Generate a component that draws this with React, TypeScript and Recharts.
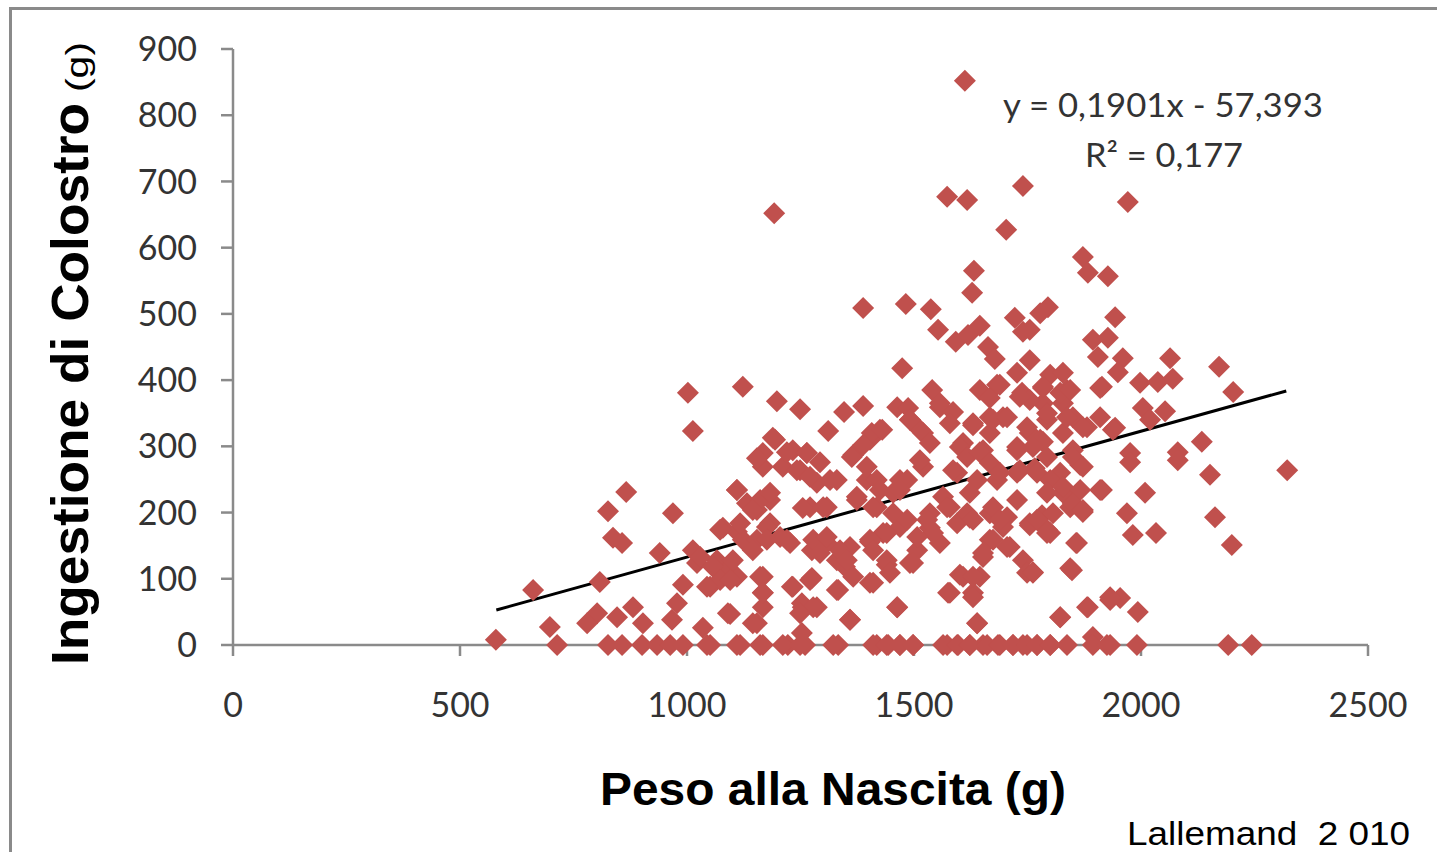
import { ReferenceLine, Scatter, ScatterChart, XAxis, YAxis } from "recharts";

// peso alla nascita (g) / ingestione di colostro (g)
const birthWeight = [
	1612, 1192, 1573, 1617, 1740, 1971, 1703, 1872, 1883, 1927,
	1632, 1628, 1388, 1482, 1537, 1553, 1592, 1619, 1645, 1663,
	1678, 1722, 1740, 1474, 1123, 1198, 1249, 1346, 1388, 1463,
	1540, 1557, 1586, 1645, 1683, 1727, 1738, 1311, 1194, 1233,
	1425, 1403, 1491, 1513, 1579, 1630, 1667, 1696, 1667, 1608,
	1652, 1727, 1366, 1264, 1167, 1795, 1778, 1755, 1943, 1894,
	1927, 1905, 1960, 1949, 2064, 2172, 1998, 2037, 2070, 1755,
	1800, 1828, 1784, 1837, 1914, 2203, 1784, 1828, 2004, 2053,
	2020, 1850, 1910, 1755, 1793, 1881, 1943, 1828, 1784, 1755,
	2134, 2081, 1976, 1850, 1002, 1013, 866, 826, 969, 837,
	857, 940, 1013, 1110, 1132, 1079, 1110, 1123, 1022, 1066,
	1088, 1110, 1051, 991, 978, 808, 661, 881, 802, 780,
	846, 903, 967, 698, 1095, 1035, 579, 1154, 1253, 1359,
	1463, 1639, 1575, 1601, 1630, 1645, 1403, 1333, 1231, 1275,
	1253, 1286, 1167, 1167, 1167, 1440, 1491, 1348, 1308, 1275,
	1359, 1330, 1403, 1432, 1469, 1535, 1557, 1507, 1535, 1579,
	1623, 1667, 1705, 1667, 1711, 1652, 1740, 1749, 1485, 1454,
	1396, 1374, 1418, 1330, 1286, 1249, 1211, 1167, 1271, 1308,
	1183, 1154, 1183, 1154, 1220, 1520, 1595, 1639, 1683, 1727,
	1564, 1623, 1727, 1595, 1696, 1766, 1822, 1866, 1976, 2081,
	2152, 2322, 1914, 2009, 1828, 1844, 1872, 1782, 1755, 1800,
	1969, 1982, 2033, 2163, 2200, 1857, 1848, 1762, 1822, 1883,
	1954, 1932, 1993, 1894,
];

const colostrumIntake = [
	852, 652, 677, 672, 693, 669, 627, 586, 562, 557,
	565, 532, 509, 515, 507, 476, 458, 468, 482, 450,
	432, 494, 473, 418, 390, 368, 356, 352, 361, 359,
	385, 359, 352, 385, 393, 411, 381, 323, 310, 294,
	325, 310, 340, 325, 335, 332, 344, 344, 320, 305,
	294, 299, 287, 290, 290, 510, 501, 476, 495, 461,
	464, 435, 433, 412, 433, 420, 396, 397, 402, 430,
	408, 411, 388, 385, 390, 382, 365, 365, 358, 353,
	340, 344, 344, 370, 340, 329, 328, 320, 307, 320,
	307, 291, 290, 294, 381, 323, 231, 202, 199, 162,
	154, 139, 143, 234, 214, 177, 171, 159, 124, 128,
	113, 103, 88, 91, 63, 95, 83, 57, 48, 33,
	42, 33, 38, 27, 47, 26, 8, 33, 18, 38,
	57, 33, 79, 106, 79, 103, 94, 83, 88, 101,
	63, 57, 103, 79, 57, 121, 124, 118, 154, 143,
	148, 128, 156, 169, 178, 177, 154, 143, 199, 208,
	192, 199, 193, 159, 148, 133, 128, 109, 249, 230,
	249, 219, 208, 249, 245, 264, 269, 269, 208, 208,
	219, 204, 184, 159, 159, 269, 260, 249, 249, 260,
	224, 230, 219, 184, 178, 267, 260, 272, 276, 279,
	257, 264, 234, 230, 230, 208, 201, 196, 181, 169,
	199, 166, 169, 193, 151, 154, 113, 109, 42, 57,
	71, 68, 50, 12,
];

// nuvola centrale (zona più densa)
const denseWeight = [
	1487, 1557, 1667, 1689, 1733, 1784, 1822, 1844, 1910, 1793,
	1837, 1872, 1938, 1630, 1674, 1705, 1749, 1778, 1189, 1154,
	1220, 1264, 1293, 1242, 1271, 1315, 1363, 1407, 1430, 1388,
	1396, 1418, 1469, 1491, 1520, 1535, 1513, 1601, 1617, 1586,
	1645, 1667, 1689, 1727, 1762, 1793, 1733, 1771, 1800, 1850,
	1872, 1828, 1866, 1850, 1872, 1910, 1793, 1806, 1793, 1755,
	1110, 1161, 1183, 1073, 1117, 1145, 1176, 1255, 1300, 1374,
	1410, 1425, 1469, 1454, 1485, 1529, 1542, 1507, 1440, 1403,
	1573, 1617, 1630, 1674, 1689, 1674, 1652, 1705, 1771, 1793,
	1859, 1029, 1057, 1101, 1073, 1044, 1095, 1145, 1176, 1205,
	1227, 1278, 1308, 1337, 1293, 1352, 1366, 1410, 1440, 1447,
	1498, 1161, 1167, 1233, 1271, 1330, 1255, 1278, 1249, 1410,
	1463, 1579, 1608, 1630, 1630, 1762, 1844, 1090, 1145, 1359,
	1639, 1822, 1881, 1932,
];

const denseIntake = [
	358, 365, 373, 393, 375, 390, 381, 385, 388, 350,
	344, 329, 325, 335, 340, 344, 329, 310, 313, 282,
	291, 290, 276, 264, 254, 249, 284, 320, 325, 302,
	269, 249, 249, 340, 320, 305, 279, 299, 284, 264,
	291, 275, 260, 294, 299, 284, 264, 260, 249, 284,
	269, 239, 234, 214, 204, 234, 230, 199, 174, 184,
	234, 219, 230, 174, 184, 204, 178, 207, 208, 224,
	208, 234, 234, 199, 189, 189, 169, 163, 169, 159,
	208, 199, 189, 208, 189, 159, 139, 148, 189, 169,
	154, 133, 118, 128, 98, 88, 98, 143, 159, 163,
	154, 159, 163, 143, 139, 128, 103, 143, 128, 109,
	124, 103, 79, 88, 98, 83, 57, 57, 48, 94,
	57, 79, 103, 103, 72, 110, 116, 48, 33, 38,
	33, 42, 57, 72,
];

// suinetti con ingestione nulla (0 g)
const zeroIntakeWeight = [
	714, 826, 857, 901, 934, 963, 991, 1051, 1117, 1167,
	1222, 1260, 1333, 1418, 1443, 1469, 1498, 1573, 1597, 1623,
	1652, 1685, 1718, 1740, 1932, 1991, 2192, 2244, 1771, 1800,
	1044, 1110, 1161, 1211, 1249, 1322, 1410, 1440, 1469, 1498,
	1564, 1595, 1623, 1661, 1689, 1718, 1749, 1771, 1800, 1837,
	1894, 1925,
];

const xTicks = [0, 500, 1000, 1500, 2000, 2500];
const yTicks = [0, 100, 200, 300, 400, 500, 600, 700, 800, 900];

// linea di tendenza: y = 0,1901x - 57,393
const trendSlope = 0.1901;
const trendIntercept = -57.393;
const trendRange = [580, 2320];

const points = [
	...birthWeight.map((x, i) => ({ x, y: colostrumIntake[i] })),
	...denseWeight.map((x, i) => ({ x, y: denseIntake[i] })),
	...zeroIntakeWeight.map((x) => ({ x, y: 0 })),
];

const RED = "#c0504d";
const AXIS = "#8a8a8a";
const TICK_FONT = "Lato, 'Open Sans', sans-serif";

function Diamond(props: any) {
	const { cx, cy } = props;
	if (cx == null || cy == null) return null;
	const r = 11;
	return (
		<path
			d={`M${cx},${cy - r}L${cx + r},${cy}L${cx},${cy + r}L${cx - r},${cy}Z`}
			fill={RED}
		/>
	);
}

function YTitle() {
	return (
		<g fill="#000" fontFamily="'Liberation Sans', Arial, sans-serif">
			<text
				x={88}
				y={665}
				transform="rotate(-90 88 665)"
				fontSize={52}
				fontWeight="bold"
				textLength={562}
				lengthAdjust="spacingAndGlyphs"
			>
				Ingestione di Colostro
			</text>
			<text
				x={88}
				y={92}
				transform="rotate(-90 88 92)"
				fontSize={32}
				textLength={50}
				lengthAdjust="spacingAndGlyphs"
			>
				(g)
			</text>
		</g>
	);
}

function XTitle() {
	return (
		<g fill="#000" fontFamily="'Liberation Sans', Arial, sans-serif">
			<text
				x={833}
				y={805}
				textAnchor="middle"
				fontSize={47}
				fontWeight="bold"
				textLength={466}
				lengthAdjust="spacingAndGlyphs"
			>
				Peso alla Nascita (g)
			</text>
			<text
				x={1127}
				y={845}
				fontSize={34}
				textLength={283}
				lengthAdjust="spacingAndGlyphs"
			>
				{"Lallemand\u00a0 2 010"}
			</text>
		</g>
	);
}

function Equation() {
	return (
		<g fill="#333" fontFamily={TICK_FONT}>
			<text x={1003} y={117} fontSize={33} textLength={320} lengthAdjust="spacingAndGlyphs">
				y = 0,1901x - 57,393
			</text>
			<text x={1085} y={167} fontSize={33} textLength={158} lengthAdjust="spacingAndGlyphs">
				R² = 0,177
			</text>
		</g>
	);
}

export default function App() {
	return (
		<div
			style={{
				position: "absolute",
				left: 0,
				top: 0,
				width: 1437,
				height: 852,
				overflow: "hidden",
				background: "#fff",
			}}
		>
			<div
				style={{
					position: "absolute",
					left: 9,
					top: 7,
					width: 1500,
					height: 900,
					borderLeft: `3px solid ${AXIS}`,
					borderTop: `3px solid ${AXIS}`,
				}}
			/>
			<div style={{ position: "absolute", left: 0, top: 0 }}>
				<ScatterChart
					width={1437}
					height={852}
					margin={{ top: 49, right: 69, bottom: 0, left: 0 }}
				>
					<XAxis
						type="number"
						dataKey="x"
						domain={[0, 2500]}
						ticks={xTicks}
						interval={0}
						height={207}
						tickSize={11}
						tickMargin={37}
						stroke={AXIS}
						strokeWidth={2.5}
						tick={{ fill: "#333", fontSize: 34, fontFamily: TICK_FONT }}
						label={{ content: XTitle }}
					/>
					<YAxis
						type="number"
						dataKey="y"
						domain={[0, 900]}
						ticks={yTicks}
						interval={0}
						width={233}
						tickSize={12}
						tickMargin={24}
						stroke={AXIS}
						strokeWidth={2.5}
						tick={{ fill: "#333", fontSize: 34, fontFamily: TICK_FONT }}
						label={{ content: YTitle }}
					/>
					<Scatter
						data={points}
						shape={Diamond}
						isAnimationActive={false}
					/>
					<ReferenceLine
						segment={trendRange.map((x) => ({
							x,
							y: trendSlope * x + trendIntercept,
						}))}
						stroke="#000"
						strokeWidth={3}
						label={{ content: Equation }}
					/>
				</ScatterChart>
			</div>
		</div>
	);
}
